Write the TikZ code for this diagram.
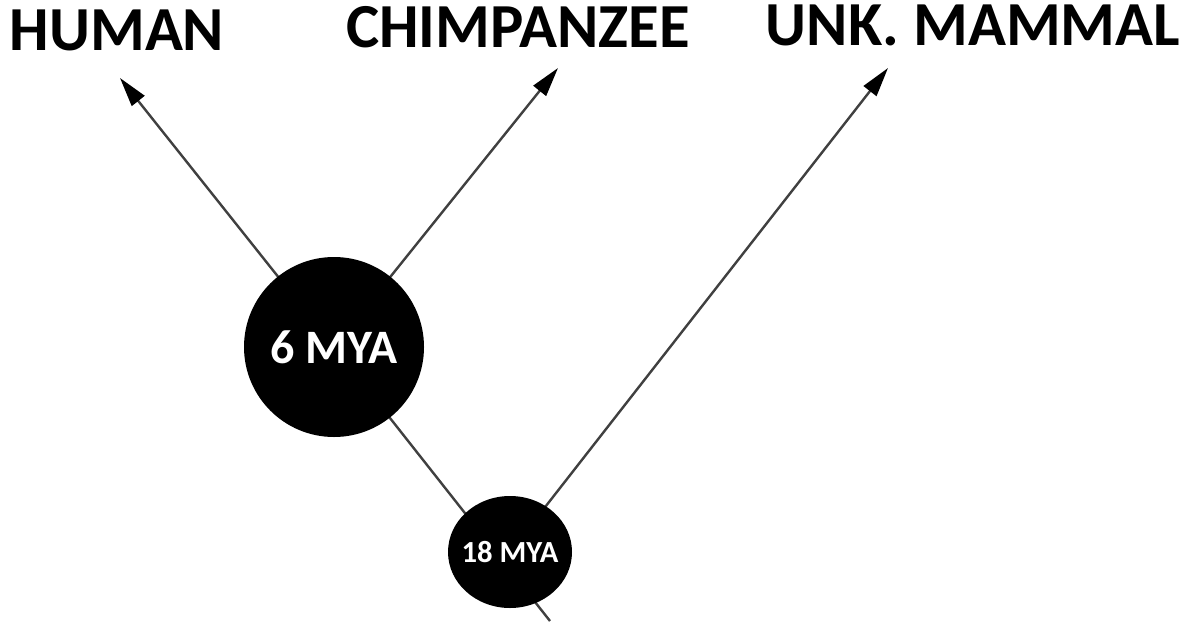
\documentclass[tikz,border=0pt]{standalone}
\usepackage{fontspec}
\setmainfont{Carlito}
\usetikzlibrary{arrows.meta,backgrounds,shapes.geometric}
\begin{document}
\begin{tikzpicture}[x=0.75pt,y=-0.75pt,
  taxon/.style={font=\fontsize{47pt}{52pt}\selectfont\bfseries, inner sep=0pt, anchor=base},
  branch/.style={draw=black!75, line width=1.8pt},
  tipped/.style={-{Triangle[length=22pt,width=12pt,color=black]}},
  blob/.style={fill=black, text=white, inner sep=0pt}]
\useasboundingbox (0,0) rectangle (1184,621);
\node[taxon] (human) at (117,50) {HUMAN};
\node[taxon] (chimp) at (518,47) {CHIMPANZEE};
\node[taxon] (unk) at (973,45) {UNK. MAMMAL};
\node[blob, circle, minimum size=135pt, font=\fontsize{36pt}{40pt}\selectfont\bfseries] (six) at (334,347) {6 MYA};
\node[blob, ellipse, minimum width=93pt, minimum height=84pt,
  label={[text=white, inner sep=0pt, font=\fontsize{23pt}{26pt}\selectfont\bfseries]center:18 MYA}] (eighteen) at (510,552) {};
\coordinate (humantip) at (120,78);
\coordinate (chimptip) at (558,68);
\coordinate (unktip) at (888,68);
\coordinate (root) at (550,621);
\begin{scope}[on background layer]
  \fill[white] (0,0) rectangle (1184,621);
  \draw[branch, tipped] (six.center) -- (humantip);
  \draw[branch, tipped] (six.center) -- (chimptip);
  \draw[branch, tipped] (eighteen.center) -- (unktip);
  \draw[branch] (six.center) -- (root);
\end{scope}
\end{tikzpicture}
\end{document}
